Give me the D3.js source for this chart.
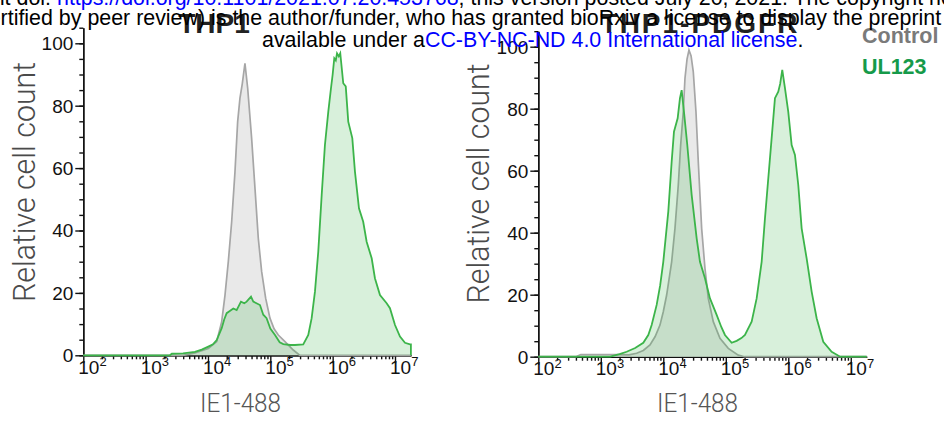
<!DOCTYPE html>
<html>
<head>
<meta charset="utf-8">
<script src="https://cdn.jsdelivr.net/npm/d3@7"></script>
<style>
  body { margin: 0; background: #fff; }
  svg { display: block; font-family: "Liberation Sans", Arial, sans-serif; }
  .light { font-family: Roboto, "Liberation Sans", sans-serif; font-weight: 300; }
</style>
</head>
<body>
<div id="chart"></div>
<script>
// histogram data: [log10 IE1-488 intensity, relative cell count]
const thp1Control = [[2,0],[3.6,0],[3.79,0.8],[4.005,2.2],[4.14,4.4],[4.22,10.8],[4.273,19.3],[4.326,30],[4.38,42.8],
  [4.433,58.8],[4.476,74.9],[4.513,82.4],[4.55,87],[4.593,93.6],[4.637,85.6],[4.70,69.6],[4.754,53.5],[4.807,37.5],
  [4.861,26.8],[4.925,18.3],[4.994,11.9],[5.06,8.5],[5.128,6.5],[5.235,4.4],[5.368,1.7],[5.475,0],[7.255,0]];

const thp1UL123 = [[2,0],[3.39,0],[3.42,0.5],[3.6,0.6],[3.79,1.1],[3.9,1.8],[4.005,2.8],[4.08,3.5],[4.14,4.9],
  [4.22,8.7],[4.26,11.5],[4.30,13.5],[4.35,14.2],[4.406,15],[4.46,14.5],[4.529,17.2],[4.583,16.7],[4.62,17.2],
  [4.69,18.8],[4.727,17.2],[4.834,16.1],[4.887,13],[4.94,11.9],[5.0,8.6],[5.075,6.5],[5.15,4.2],[5.208,3.6],
  [5.32,3.3],[5.395,3.3],[5.528,3.5],[5.609,6.5],[5.663,11.9],[5.716,20.4],[5.769,33.2],[5.824,51.4],[5.876,67.4],
  [5.93,78.1],[5.973,85.6],[6.0,90],[6.026,95.2],[6.05,94.5],[6.07,96.8],[6.098,95.8],[6.122,96.8],[6.17,87.2],
  [6.21,86.2],[6.25,74.9],[6.315,69.6],[6.358,58.8],[6.422,47.1],[6.49,42.8],[6.545,36.4],[6.626,31.1],
  [6.678,24.7],[6.759,19.3],[6.866,16.7],[6.919,15.1],[7.0,9.7],[7.08,6.0],[7.16,4.0],[7.24,3.5],[7.255,3.5],[7.255,0]];

const pdgfrControl = [[2,0],[2.6,0],[2.68,0.7],[3.3,0.7],[3.45,0.6],[3.574,1.1],[3.68,2],[3.787,3.8],[3.87,6.5],
  [3.947,10.2],[4.0,14.5],[4.054,19.9],[4.134,30.6],[4.187,41.4],[4.24,55.4],[4.278,68.3],[4.32,79],[4.347,89.8],
  [4.38,96],[4.411,98.9],[4.445,97],[4.48,91.9],[4.523,79],[4.56,62.9],[4.614,41.4],[4.667,28.5],[4.72,18.8],
  [4.8,11.3],[4.907,5.9],[5.04,2.7],[5.2,0.5],[5.3,0],[7.255,0]];

const pdgfrUL123 = [[2,0],[3.15,0],[3.3,0.8],[3.414,1.6],[3.55,2.8],[3.68,4.5],[3.76,7],[3.814,10.2],[3.894,16.7],
  [3.95,23],[4.0,30.6],[4.08,46.8],[4.134,62.9],[4.171,72.6],[4.23,76.9],[4.267,83.4],[4.294,86],[4.331,79],
  [4.384,68.3],[4.454,52.2],[4.534,38.2],[4.587,30.6],[4.667,25.3],[4.747,18.8],[4.854,13.5],[4.93,9.5],[4.987,7],
  [5.094,4.5],[5.174,5.1],[5.25,6],[5.307,7],[5.414,11.3],[5.494,18.8],[5.574,30.6],[5.627,44.6],[5.68,57.5],
  [5.734,70.5],[5.787,83.4],[5.84,85.5],[5.87,88],[5.904,92.5],[5.947,86.6],[6.0,79],[6.054,68.3],[6.107,65.1],
  [6.16,55.4],[6.214,41.4],[6.294,31.7],[6.374,21],[6.454,12.4],[6.56,4.8],[6.694,1.6],[6.83,0],[7.255,0]];

const panelTitles = ["THP1", "THP1-PDGFR"];
const seriesNames = ["Control", "UL123"];
const xDecades = [2, 3, 4, 5, 6, 7];
const yMajorTicks = [0, 20, 40, 60, 80, 100];
const xLabel = "IE1-488";
const yLabel = "Relative cell count";

const svg = d3.select("#chart").append("svg")
    .attr("width", 944)
    .attr("height", 421);

function drawPanel(cfg) {
    const x = d3.scaleLog()
        .domain([1e2, Math.pow(10, 7.255)])
        .range([cfg.left, cfg.right]);
    const y = d3.scaleLinear()
        .domain([0, 105])
        .range([cfg.bottom, cfg.bottom - 105 * cfg.pxPerUnit]);

    const g = svg.append("g");

    // minor ticks
    const xMinor = [];
    for (let e = 2; e <= 7; e++) {
        for (let k = 2; k <= 9; k++) {
            const v = k * Math.pow(10, e);
            if (v <= x.domain()[1]) xMinor.push(v);
        }
    }
    const axisStyle = sel => {
        sel.selectAll("path, line").attr("stroke", "#111").attr("stroke-width", 1.4);
        sel.selectAll("text").remove();
    };

    g.append("g")
        .attr("transform", `translate(0,${cfg.bottom})`)
        .call(d3.axisBottom(x).tickValues(xMinor).tickSize(4).tickSizeOuter(0).tickFormat(""))
        .call(axisStyle);
    g.append("g")
        .attr("transform", `translate(0,${cfg.bottom})`)
        .call(d3.axisBottom(x).tickValues(xDecades.map(e => Math.pow(10, e))).tickSize(8).tickSizeOuter(0).tickFormat(""))
        .call(axisStyle);
    g.append("g")
        .attr("transform", `translate(${cfg.left},0)`)
        .call(d3.axisLeft(y).tickValues(d3.range(0, 106, 5)).tickSize(4).tickSizeOuter(0).tickFormat(""))
        .call(axisStyle);
    g.append("g")
        .attr("transform", `translate(${cfg.left},0)`)
        .call(d3.axisLeft(y).tickValues(yMajorTicks).tickSize(8).tickSizeOuter(0).tickFormat(""))
        .call(axisStyle);

    // tick labels
    const xl = g.selectAll(".xlab")
        .data(xDecades)
        .enter().append("text")
        .attr("x", d => x(Math.pow(10, d)) - 5)
        .attr("y", cfg.bottom + 18.5)
        .attr("font-size", 19)
        .attr("fill", "#111");
    xl.append("tspan").text("10");
    xl.append("tspan").attr("font-size", 13).attr("dy", -7.5).text(d => d);

    g.selectAll(".ylab")
        .data(yMajorTicks)
        .enter().append("text")
        .attr("x", cfg.left - 10)
        .attr("y", d => y(d))
        .attr("dy", "0.36em")
        .attr("text-anchor", "end")
        .attr("font-size", 19)
        .attr("fill", "#111")
        .text(d => d);

    // histograms
    const area = d3.area()
        .x(d => x(Math.pow(10, d[0])))
        .y0(y(0))
        .y1(d => y(d[1]));
    const line = d3.line()
        .x(d => x(Math.pow(10, d[0])))
        .y(d => y(d[1]));

    g.append("path").datum(cfg.control).attr("d", area).attr("fill", "#e9e9e9");
    g.append("path").datum(cfg.control).attr("d", line)
        .attr("fill", "none").attr("stroke", "#a6a6a6").attr("stroke-width", 1.7);
    g.append("path").datum(cfg.ul123).attr("d", area).attr("fill", "rgba(60,180,74,0.2)");
    g.append("path").datum(cfg.ul123).attr("d", line)
        .attr("fill", "none").attr("stroke", "#3cb44a").attr("stroke-width", 1.8);

    // axis titles
    g.append("text")
        .attr("class", "light")
        .attr("x", cfg.xTitleX)
        .attr("y", 411.5)
        .attr("text-anchor", "middle")
        .attr("font-size", 25)
        .attr("textLength", 81)
        .attr("lengthAdjust", "spacingAndGlyphs")
        .attr("fill", "#555")
        .text(xLabel);
    g.append("text")
        .attr("class", "light")
        .attr("transform", `translate(${cfg.yTitleX},${cfg.yTitleY}) rotate(-90)`)
        .attr("text-anchor", "middle")
        .attr("font-size", 31)
        .attr("textLength", 240)
        .attr("lengthAdjust", "spacingAndGlyphs")
        .attr("fill", "#4a4a4a")
        .text(yLabel);

    // panel title
    g.append("text")
        .attr("x", cfg.titleX)
        .attr("y", 33)
        .attr("text-anchor", "middle")
        .attr("font-size", 28)
        .attr("font-weight", "bold")
        .attr("letter-spacing", cfg.titleSpacing)
        .attr("fill", "#222")
        .text(cfg.title);
}

drawPanel({
    title: panelTitles[0], titleX: 214, titleSpacing: 0,
    control: thp1Control, ul123: thp1UL123,
    left: 83.3, right: 410.9, bottom: 355.3, pxPerUnit: 3.12,
    xTitleX: 240.5, yTitleX: 35, yTitleY: 182
});
drawPanel({
    title: panelTitles[1], titleX: 700, titleSpacing: 2,
    control: pdgfrControl, ul123: pdgfrUL123,
    left: 538.3, right: 866.7, bottom: 356.7, pxPerUnit: 3.10,
    xTitleX: 697.5, yTitleX: 488.5, yTitleY: 183.5
});

// legend
const legendColors = ["#7a7a7a", "#169a4a"];
svg.selectAll(".legend")
    .data(seriesNames)
    .enter().append("text")
    .attr("x", 862)
    .attr("y", (d, i) => 43 + i * 31)
    .attr("font-size", 21.5)
    .attr("font-weight", "bold")
    .attr("fill", (d, i) => legendColors[i])
    .text(d => d);

// bioRxiv watermark on top
const wm = svg.append("g").attr("font-size", 21.4).attr("fill", "#000");
wm.append("text").attr("x", 51).attr("y", 5).attr("text-anchor", "end").text("bioRxiv preprint doi:");
const w1 = wm.append("text").attr("x", 57).attr("y", 5);
w1.append("tspan").attr("fill", "#0000ff").text("https://doi.org/10.1101/2021.07.20.453768");
w1.append("tspan").text("; this version posted July 20, 2021. The copyright holder for this preprint (which was not");
wm.append("text").attr("x", -22).attr("y", 25)
    .text("certified by peer review) is the author/funder, who has granted bioRxiv a license to display the preprint in perpetuity. It is made");
const w3 = wm.append("text").attr("x", 262).attr("y", 46.5);
w3.append("tspan").text("available under a");
w3.append("tspan").attr("fill", "#0000ff").text("CC-BY-NC-ND 4.0 International license");
w3.append("tspan").text(".");
</script>
</body>
</html>
